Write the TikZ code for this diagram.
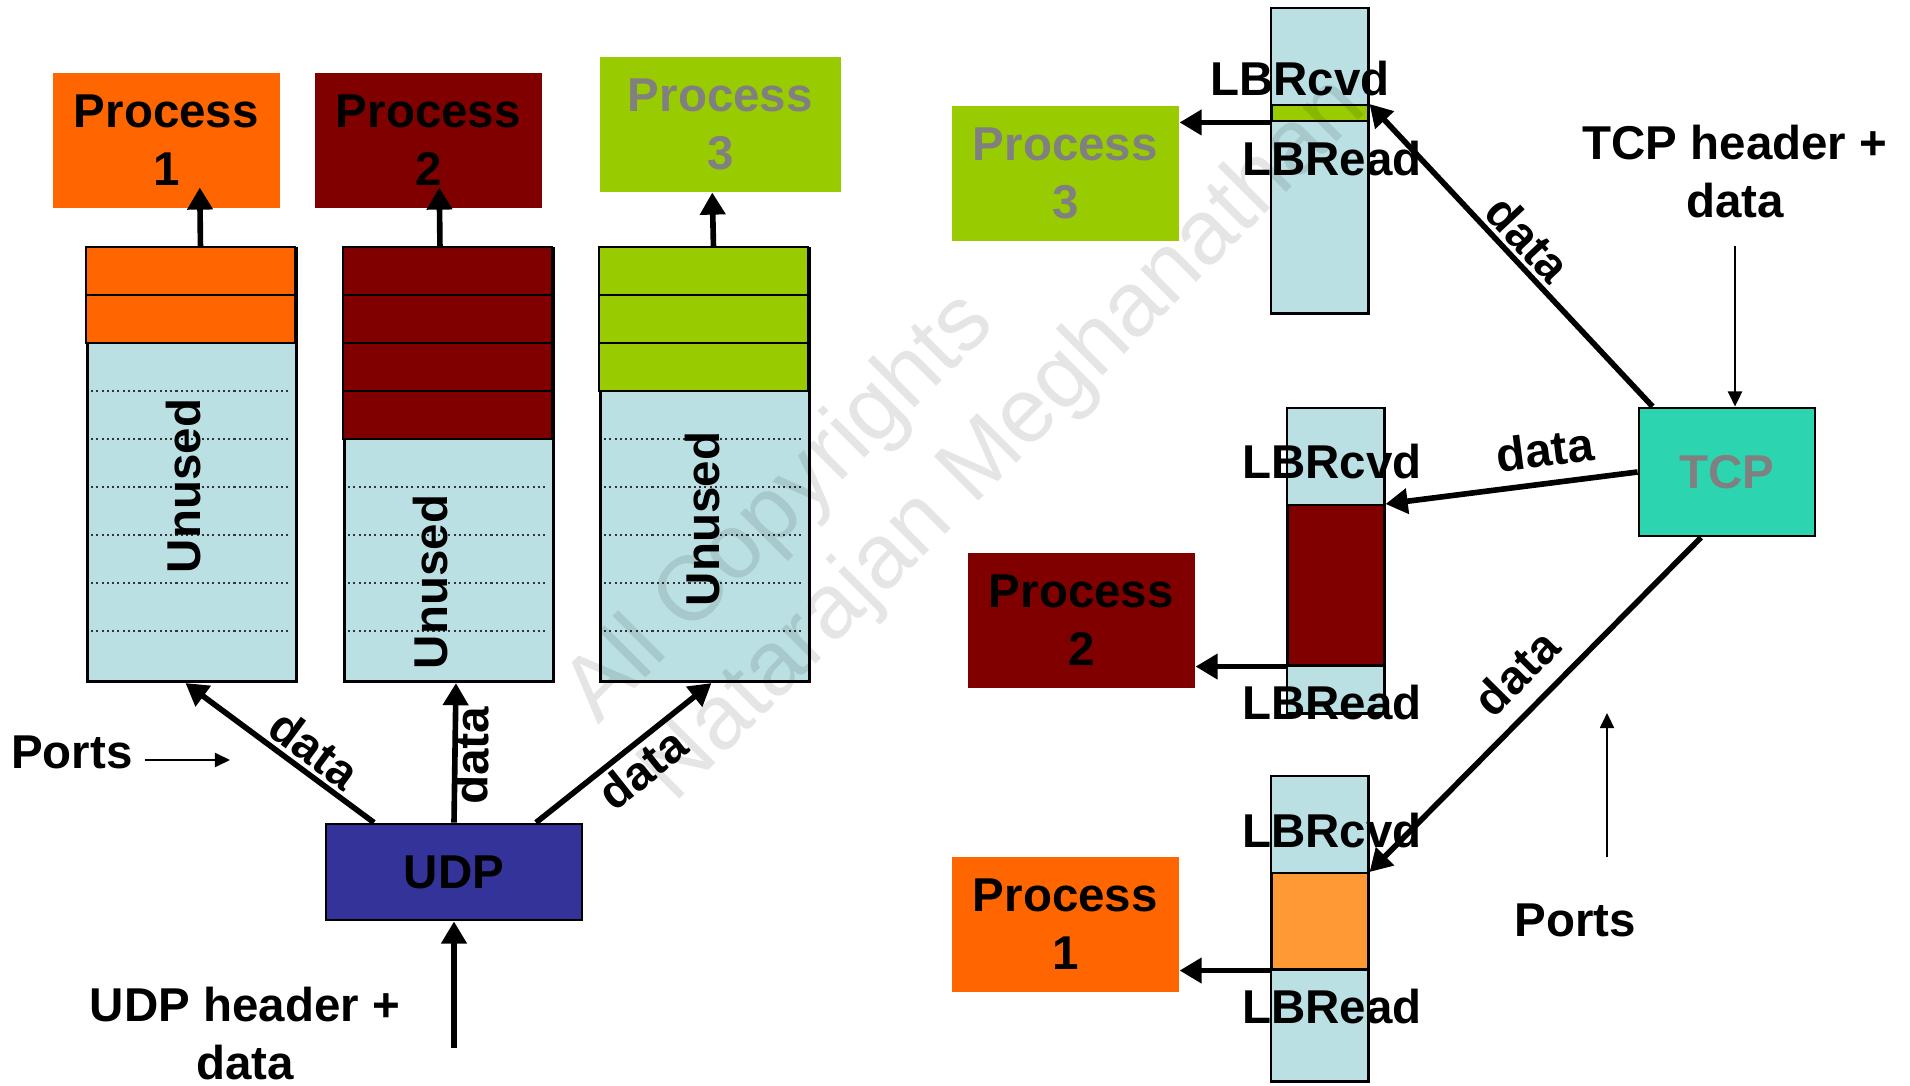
\documentclass[tikz,border=0pt]{standalone}
\usepackage{fontspec}
\setmainfont{Liberation Sans}
\usepackage{tikz}
\usetikzlibrary{arrows.meta}
\definecolor{procorange}{HTML}{FF6600}
\definecolor{procred}{HTML}{800000}
\definecolor{procgreen}{HTML}{99CC00}
\definecolor{pale}{HTML}{BBE0E3}
\definecolor{udpblue}{HTML}{333399}
\definecolor{tcpgreen}{HTML}{2CD5B0}
\definecolor{peach}{HTML}{FF9933}
\definecolor{dim}{HTML}{808080}
\tikzset{
  every node/.style={font=\fontsize{13.5}{16.5}\selectfont\bfseries},
  proc/.style={minimum width=2.27cm,minimum height=1.35cm,align=center,inner sep=0pt,anchor=north west},
  queue/.style={draw,line width=0.8pt,fill=pale,minimum width=2.09cm,minimum height=4.33cm,
                inner sep=0pt,anchor=north west},
  slot/.style={draw,line width=0.8pt},
  dots/.style={draw=black!80,line width=0.55pt,dash pattern=on 0.6pt off 0.9pt},
  buf/.style={fill=pale,minimum width=0.96cm,minimum height=3.04cm,inner sep=0pt,anchor=north west},
  bufslot/.style={draw,line width=0.7pt,minimum width=0.96cm,inner sep=0pt,anchor=north west},
  bufline/.style={draw,line width=0.7pt},
  ar/.style={-{Triangle[length=6.3pt,width=7pt]},line width=1.6pt},
  ptr/.style={-{Triangle[length=4.3pt,width=4pt]},line width=0.6pt},
  lab/.style={inner sep=1pt},
  wm/.style={font=\fontsize{26}{30}\selectfont\mdseries,text=black,text opacity=0.1,rotate=45},
}
\begin{document}
\begin{tikzpicture}[x=0.01cm,y=-0.01cm]
\useasboundingbox (0,0) rectangle (1910,1086);

% left: UDP side
\node[proc,fill=procorange] (p1) at (52,72) {Process\\1};
\node[proc,fill=procred] (p2) at (314,72) {Process\\2};
\node[proc,fill=procgreen,text=dim,minimum width=2.41cm] (p3) at (599,56) {Process\\3};

\foreach \q/\x/\n/\c in {q1/86/2/procorange, q2/343/4/procred, q3/599/3/procgreen}{
  \node[queue] (\q) at (\x,247) {};
  \foreach \k in {1,...,\n}
    \draw[slot,fill=\c] (\x,{247+(\k-1)*48}) rectangle ++(209,48);
  \pgfmathtruncatemacro\firstdot{\n+1}
  \foreach \k in {\firstdot,...,8}
    \draw[dots] (\x+5,{247+\k*48}) -- ++(199,0);
}
\node[rotate=90] (u1) at (184,486) {Unused};
\node[rotate=90] (u2) at (431,582) {Unused};
\node[rotate=90] (u3) at (703,519) {Unused};

\node[draw,line width=0.8pt,fill=udpblue,minimum width=2.56cm,minimum height=0.96cm,inner sep=0pt] (udp) at (454,872) {UDP};
\node[align=center,inner sep=1pt] (udphdr) at (245,1034) {UDP header +\\data};
\coordinate (udpin) at (454,1048);
\node (lports) at (72,752) {Ports};
\coordinate (lportsend) at (230,760);

\draw[ar] ([xshift=0.085cm]q1.north) -- ([xshift=0.335cm,yshift=0.21cm]p1.south);
\draw[ar] ([xshift=-0.09cm]q2.north) -- ([xshift=0.11cm,yshift=0.21cm]p2.south);
\draw[ar] ([xshift=0.085cm]q3.north) -- ([xshift=-0.08cm]p3.south);
\draw[ar] ([xshift=-0.8cm]udp.north) -- ([xshift=-0.065cm]q1.south) node[lab,pos=0.39,sloped,above] {data};
\draw[ar] (udp.north) -- ([xshift=0.07cm]q2.south) node[lab,pos=0.48,sloped,below=-2pt] {data};
\draw[ar] ([xshift=0.82cm]udp.north) -- ([xshift=0.065cm]q3.south) node[lab,pos=0.52,sloped,below=0pt] {data};
\draw[ar] (udpin) -- (udp.south);
\draw[ptr] (lports.east |- lportsend) -- (lportsend);

% right: TCP side
\node[proc,fill=procgreen,text=dim] (rp3) at (951,105) {Process\\3};
\node[proc,fill=procred] (rp2) at (967,552) {Process\\2};
\node[proc,fill=procorange] (rp1) at (951,856) {Process\\1};

\node[buf] (b3) at (1271,8) {};
\node[buf] (b2) at (1287,408) {};
\node[buf] (b1) at (1271,776) {};
\node[bufslot,fill=procgreen,minimum height=0.16cm] (s3) at (1271,104) {};
\node[bufslot,fill=procred,minimum height=1.6cm] (s2) at (1287,504) {};
\node[bufslot,fill=peach,minimum height=0.96cm] (s1) at (1271,872) {};

\node (rcvd3) at (1300,79) {LBRcvd};
\node (read3) at (1332,159) {LBRead};
\node (rcvd2) at (1332,462) {LBRcvd};
\node (read2) at (1332,703) {LBRead};
\node (rcvd1) at (1332,831) {LBRcvd};
\node (read1) at (1332,1007) {LBRead};
\foreach \b in {b1,b2,b3}
  \draw[bufline] (\b.north west) rectangle (\b.south east);

\node[draw,line width=0.8pt,fill=tcpgreen,text=dim,minimum width=1.76cm,minimum height=1.28cm,inner sep=0pt] (tcp) at (1727,472) {TCP};
\node[align=center] (tcphdr) at (1735,172) {TCP header +\\data};
\coordinate (tcpin) at (1735,246);
\node (rports) at (1575,920) {Ports};
\coordinate (rportsbot) at (1607,857);
\coordinate (rportstop) at (1607,713);

\draw[ar] ([xshift=0.15cm]tcp.north west) -- (s3.north east) node[lab,midway,sloped,above] {data};
\draw[ar] (tcp.west) -- (s2.north east) node[lab,pos=0.35,sloped,above=3pt] {data};
\draw[ar] ([xshift=-0.26cm]tcp.south) -- (s1.north east) node[lab,pos=0.48,sloped,above=3.5pt] {data};
\draw[ar] (s3.south west) -- (s3.south west -| rp3.east);
\draw[ar] (s2.south west) -- (s2.south west -| rp2.east);
\draw[ar] (s1.south west) -- (s1.south west -| rp1.east);
\draw[ptr] (tcpin) -- (tcpin |- tcp.north);
\draw[ptr] (rportsbot) -- (rportstop);

\node[wm] (wm1) at (781,509) {All Copyrights};
\node[wm] (wm2) at (1005,441) {Natarajan Meghanathan};
\end{tikzpicture}
\end{document}
